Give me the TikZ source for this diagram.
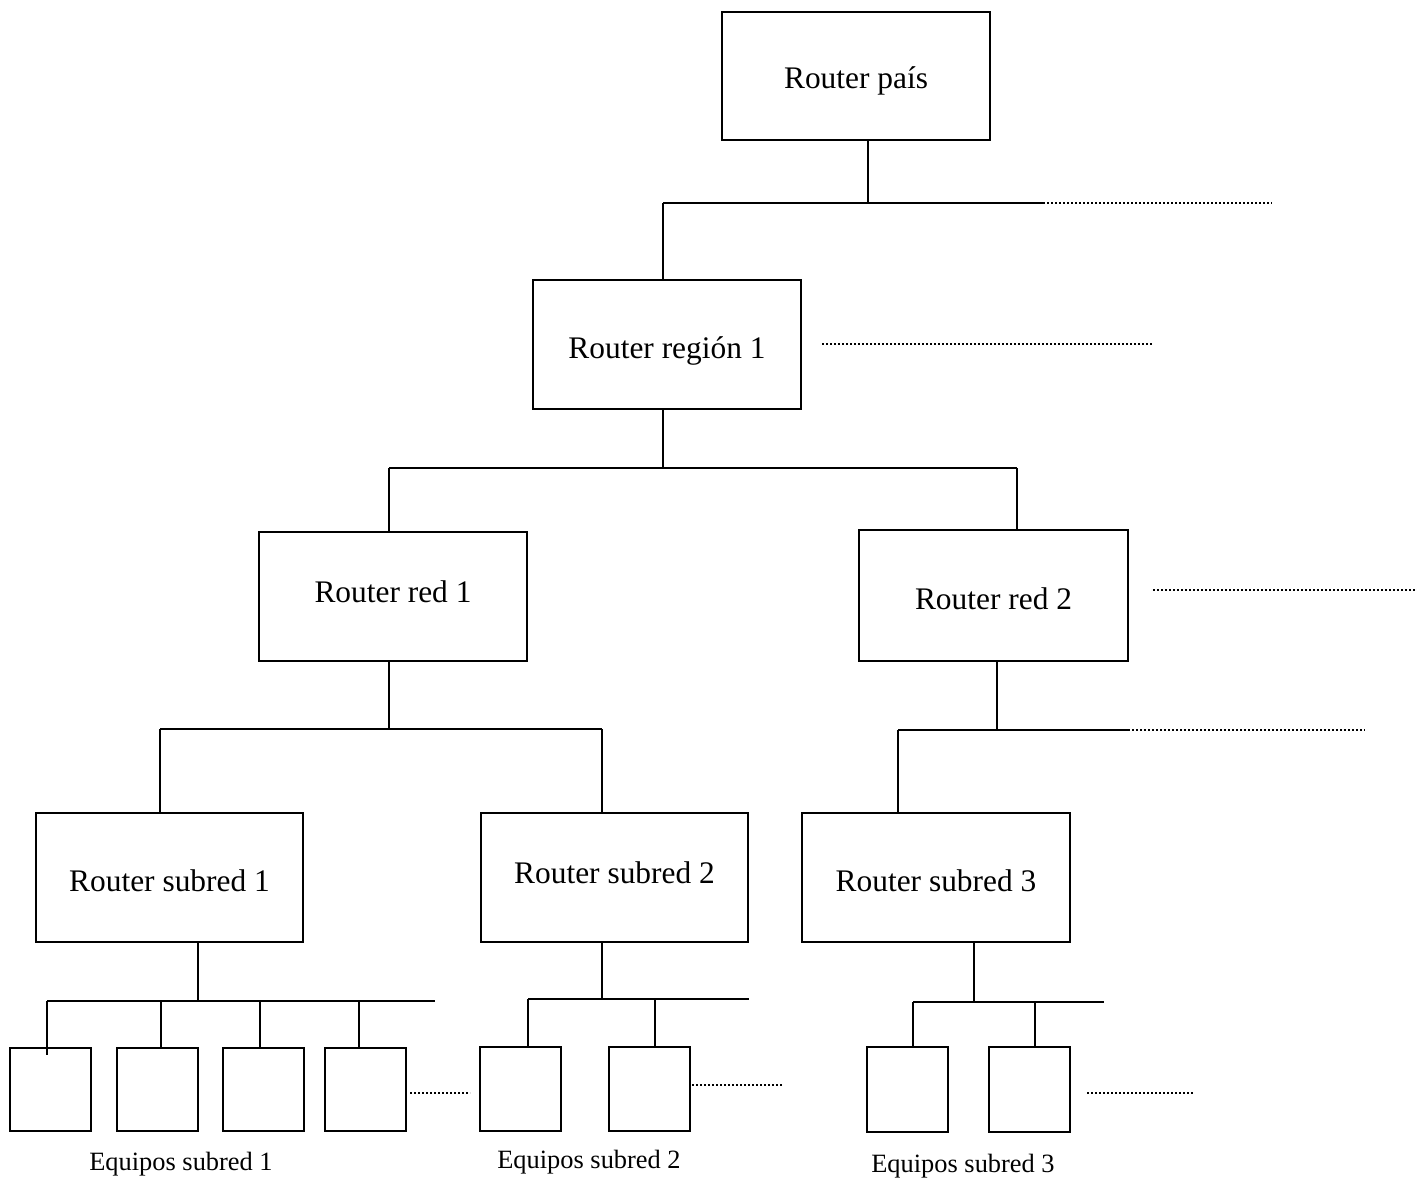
\documentclass[tikz,border=0pt]{standalone}
\usepackage{fontspec}
\setmainfont{Liberation Serif}
\begin{document}
\begin{tikzpicture}[x=0.5pt,y=-0.5pt,
  router/.style={draw, line width=1pt, minimum width=134pt, minimum height=64.5pt, inner sep=0pt},
  rname/.style={inner sep=0pt, font=\fontsize{15.7}{18}\selectfont},
  host/.style={draw, line width=1pt, minimum width=40.5pt, minimum height=41.5pt, inner sep=0pt},
  link/.style={line width=1pt},
  more/.style={line width=0.6pt, dash pattern=on 0.8pt off 1.2pt},
  caption/.style={inner sep=0pt, font=\fontsize{13.2}{15}\selectfont}]
\useasboundingbox (0,0) rectangle (1423,1182);

% router boxes
\node[router, minimum height=64pt] (pais) at (856,76) {};
\node[router] (region) at (667,344.5) {};
\node[router] (red1)   at (393,596.5) {};
\node[router, minimum width=134.5pt, minimum height=65.5pt] (red2) at (993.5,595.5) {};
\node[router, minimum width=133.5pt] (sub1) at (169.5,877.5) {};
\node[router, minimum width=133.5pt] (sub2) at (614.5,877.5) {};
\node[router] (sub3)   at (936,877.5) {};

% router names
\node[rname] (paisT)   at (856,81)    {Router país};
\node[rname] (regionT) at (667,350.5) {Router región 1};
\node[rname] (red1T)   at (393,592)   {Router red 1};
\node[rname] (red2T)   at (993.5,598.5) {Router red 2};
\node[rname] (sub1T)   at (169.5,881) {Router subred 1};
\node[rname] (sub2T)   at (614.5,873) {Router subred 2};
\node[rname] (sub3T)   at (936,881)   {Router subred 3};

% hosts
\node[host] (h11) at (50,1089.5)  {};
\node[host] (h12) at (157,1089.5) {};
\node[host] (h13) at (263.5,1089.5) {};
\node[host] (h14) at (365,1089.5) {};
\node[host, minimum height=42pt] (h21) at (520,1089) {};
\node[host, minimum height=42pt] (h22) at (649,1089) {};
\node[host, minimum height=42.5pt] (h31) at (907.5,1089.5) {};
\node[host, minimum height=42.5pt] (h32) at (1029.5,1089.5) {};

% captions
\node[caption] (c1) at (181,1164) {Equipos subred 1};
\node[caption] (c2) at (589,1162) {Equipos subred 2};
\node[caption] (c3) at (963,1166) {Equipos subred 3};

% country level bus
\coordinate (t0) at (868,203);
\coordinate (l0) at (663,203);
\coordinate (r0) at (1043,203);
\coordinate (d0) at (1272,203);
\draw[link] (pais.south -| t0) -- (t0);
\draw[link] (l0) -- (r0);
\draw[more] (r0) -- (d0);
\draw[link] (l0) -- (region.north -| l0);

% further regions
\coordinate (dr1) at (822,344);
\coordinate (dr2) at (1153,344);
\draw[more] (dr1) -- (dr2);

% region level bus
\coordinate (t1) at (663,468);
\coordinate (l1) at (389,468);
\coordinate (r1) at (1017,468);
\draw[link] (region.south -| t1) -- (t1);
\draw[link] (l1) -- (r1);
\draw[link] (l1) -- (red1.north -| l1);
\draw[link] (r1) -- (red2.north -| r1);

% further networks
\coordinate (dn1) at (1153,590);
\coordinate (dn2) at (1415,590);
\draw[more] (dn1) -- (dn2);

% network 1 bus
\coordinate (t2) at (389,729);
\coordinate (l2) at (160,729);
\coordinate (r2) at (602,729);
\draw[link] (red1.south -| t2) -- (t2);
\draw[link] (l2) -- (r2);
\draw[link] (l2) -- (sub1.north -| l2);
\draw[link] (r2) -- (sub2.north -| r2);

% network 2 bus
\coordinate (t3) at (997,730);
\coordinate (l3) at (898,730);
\coordinate (r3) at (1128,730);
\coordinate (d3) at (1365,730);
\draw[link] (red2.south -| t3) -- (t3);
\draw[link] (l3) -- (r3);
\draw[more] (r3) -- (d3);
\draw[link] (l3) -- (sub3.north -| l3);

% subnet 1 hosts
\coordinate (s1t) at (198,1001);
\coordinate (s1a) at (47,1001);
\coordinate (s1b) at (161,1001);
\coordinate (s1c) at (260,1001);
\coordinate (s1d) at (359,1001);
\coordinate (s1e) at (435,1001);
\coordinate (s1x) at (47,1055);
\draw[link] (sub1.south -| s1t) -- (s1t);
\draw[link] (s1a) -- (s1e);
\draw[link] (s1a) -- (s1x);
\draw[link] (s1b) -- (h12.north -| s1b);
\draw[link] (s1c) -- (h13.north -| s1c);
\draw[link] (s1d) -- (h14.north -| s1d);
\coordinate (m1a) at (410,1093);
\coordinate (m1b) at (470,1093);
\draw[more] (m1a) -- (m1b);

% subnet 2 hosts
\coordinate (s2t) at (602,999);
\coordinate (s2a) at (528,999);
\coordinate (s2b) at (655,999);
\coordinate (s2e) at (749,999);
\draw[link] (sub2.south -| s2t) -- (s2t);
\draw[link] (s2a) -- (s2e);
\draw[link] (s2a) -- (h21.north -| s2a);
\draw[link] (s2b) -- (h22.north -| s2b);
\coordinate (m2a) at (692,1085);
\coordinate (m2b) at (782,1085);
\draw[more] (m2a) -- (m2b);

% subnet 3 hosts
\coordinate (s3t) at (974,1002);
\coordinate (s3a) at (913,1002);
\coordinate (s3b) at (1035,1002);
\coordinate (s3e) at (1104,1002);
\draw[link] (sub3.south -| s3t) -- (s3t);
\draw[link] (s3a) -- (s3e);
\draw[link] (s3a) -- (h31.north -| s3a);
\draw[link] (s3b) -- (h32.north -| s3b);
\coordinate (m3a) at (1087,1093);
\coordinate (m3b) at (1193,1093);
\draw[more] (m3a) -- (m3b);
\end{tikzpicture}
\end{document}
